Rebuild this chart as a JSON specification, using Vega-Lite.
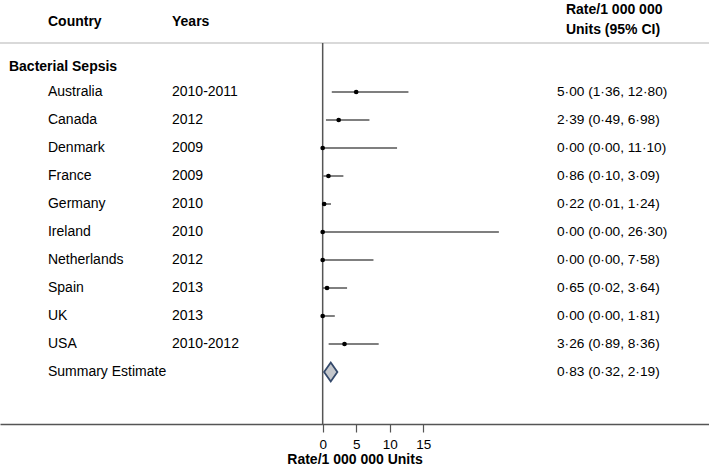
{
  "$schema": "https://vega.github.io/schema/vega-lite/v6.json",
  "width": 709,
  "height": 424,
  "autosize": {"type": "none"},
  "padding": {"left": 0, "right": 0, "top": 0, "bottom": 46},
  "background": "white",
  "config": {
    "view": {"stroke": null},
    "font": "Liberation Sans",
    "axisY": {"disable": true},
    "axisX": {
      "grid": false,
      "domainColor": "#555555",
      "domainWidth": 1.5,
      "tickColor": "#555555",
      "tickWidth": 1.2,
      "tickSize": 8,
      "labelFont": "Liberation Sans",
      "labelFontSize": 13.5,
      "labelColor": "#000000",
      "labelPadding": 5,
      "titleFont": "Liberation Sans",
      "titleFontSize": 14,
      "titleFontWeight": "bold",
      "titleColor": "#000000",
      "titlePadding": 2
    }
  },
  "data": {
    "values": [
      {"country": "Australia", "years": "2010-2011", "kind": "study", "est": 5.00, "lo": 1.36, "hi": 12.80, "ci": "5·00 (1·36, 12·80)"},
      {"country": "Canada", "years": "2012", "kind": "study", "est": 2.39, "lo": 0.49, "hi": 6.98, "ci": "2·39 (0·49, 6·98)"},
      {"country": "Denmark", "years": "2009", "kind": "study", "est": 0.00, "lo": 0.00, "hi": 11.10, "ci": "0·00 (0·00, 11·10)"},
      {"country": "France", "years": "2009", "kind": "study", "est": 0.86, "lo": 0.10, "hi": 3.09, "ci": "0·86 (0·10, 3·09)"},
      {"country": "Germany", "years": "2010", "kind": "study", "est": 0.22, "lo": 0.01, "hi": 1.24, "ci": "0·22 (0·01, 1·24)"},
      {"country": "Ireland", "years": "2010", "kind": "study", "est": 0.00, "lo": 0.00, "hi": 26.30, "ci": "0·00 (0·00, 26·30)"},
      {"country": "Netherlands", "years": "2012", "kind": "study", "est": 0.00, "lo": 0.00, "hi": 7.58, "ci": "0·00 (0·00, 7·58)"},
      {"country": "Spain", "years": "2013", "kind": "study", "est": 0.65, "lo": 0.02, "hi": 3.64, "ci": "0·65 (0·02, 3·64)"},
      {"country": "UK", "years": "2013", "kind": "study", "est": 0.00, "lo": 0.00, "hi": 1.81, "ci": "0·00 (0·00, 1·81)"},
      {"country": "USA", "years": "2010-2012", "kind": "study", "est": 3.26, "lo": 0.89, "hi": 8.36, "ci": "3·26 (0·89, 8·36)"},
      {"country": "Summary Estimate", "years": "", "kind": "summary", "est": 0.83, "lo": 0.32, "hi": 2.19, "ci": "0·83 (0·32, 2·19)"}
    ]
  },
  "transform": [{"window": [{"op": "row_number", "as": "idx"}]}],
  "layer": [
    {
      "data": {"values": [{}]},
      "mark": {"type": "rule", "color": "#cccccc", "strokeWidth": 1.5},
      "encoding": {
        "y": {"datum": -0.75, "type": "quantitative", "scale": {"domain": [-2.2857, 12.857], "reverse": true, "nice": false, "zero": false}, "axis": null}
      }
    },
    {
      "data": {"values": [{}]},
      "mark": {"type": "rule", "color": "#555555", "strokeWidth": 1.5},
      "encoding": {
        "x": {"datum": 0, "type": "quantitative"},
        "y": {"datum": -0.75, "type": "quantitative", "axis": null},
        "y2": {"datum": 12.857}
      }
    },
    {
      "transform": [{"filter": "datum.kind === 'study'"}],
      "mark": {"type": "rule", "color": "#555555", "strokeWidth": 1.5},
      "encoding": {
        "x": {"field": "lo", "type": "quantitative", "scale": {"domain": [-48.16, 57.66], "nice": false, "zero": false}, "axis": {"values": [0, 5, 10, 15], "title": "Rate/1 000 000 Units"}},
        "x2": {"field": "hi"},
        "y": {"field": "idx", "type": "quantitative", "axis": null}
      }
    },
    {
      "transform": [{"filter": "datum.kind === 'study'"}],
      "mark": {"type": "point", "filled": true, "shape": "circle", "color": "#000000", "size": 22, "opacity": 1},
      "encoding": {
        "x": {"field": "est", "type": "quantitative"},
        "y": {"field": "idx", "type": "quantitative", "axis": null}
      }
    },
    {
      "transform": [{"filter": "datum.kind === 'summary'"}],
      "mark": {"type": "point", "filled": false, "shape": "M0,-1L0.7,0L0,1L-0.7,0Z", "fill": "#c4c7cc", "fillOpacity": 1, "stroke": "#34496b", "strokeWidth": 1.8, "opacity": 1, "size": 361, "xOffset": 2.5},
      "encoding": {
        "x": {"field": "est", "type": "quantitative"},
        "y": {"field": "idx", "type": "quantitative", "axis": null}
      }
    },
    {
      "mark": {"type": "text", "align": "left", "baseline": "middle", "fontSize": 14, "color": "#000000"},
      "encoding": {
        "x": {"datum": -41.0, "type": "quantitative"},
        "y": {"field": "idx", "type": "quantitative", "axis": null},
        "text": {"field": "country"}
      }
    },
    {
      "mark": {"type": "text", "align": "left", "baseline": "middle", "fontSize": 14, "color": "#000000"},
      "encoding": {
        "x": {"datum": -22.49, "type": "quantitative"},
        "y": {"field": "idx", "type": "quantitative", "axis": null},
        "text": {"field": "years"}
      }
    },
    {
      "mark": {"type": "text", "align": "left", "baseline": "middle", "fontSize": 13.7, "color": "#000000"},
      "encoding": {
        "x": {"datum": 34.97, "type": "quantitative"},
        "y": {"field": "idx", "type": "quantitative", "axis": null},
        "text": {"field": "ci"}
      }
    },
    {
      "data": {"values": [{}]},
      "mark": {"type": "text", "align": "left", "baseline": "middle", "fontSize": 14, "fontWeight": "bold", "color": "#000000", "text": "Bacterial Sepsis"},
      "encoding": {
        "x": {"datum": -46.82, "type": "quantitative"},
        "y": {"datum": 0.096, "type": "quantitative", "axis": null}
      }
    },
    {
      "data": {"values": [{}]},
      "mark": {"type": "text", "align": "left", "baseline": "middle", "fontSize": 14, "fontWeight": "bold", "color": "#000000", "text": "Country"},
      "encoding": {
        "x": {"datum": -41.0, "type": "quantitative"},
        "y": {"datum": -1.511, "type": "quantitative", "axis": null}
      }
    },
    {
      "data": {"values": [{}]},
      "mark": {"type": "text", "align": "left", "baseline": "middle", "fontSize": 14, "fontWeight": "bold", "color": "#000000", "text": "Years"},
      "encoding": {
        "x": {"datum": -22.49, "type": "quantitative"},
        "y": {"datum": -1.511, "type": "quantitative", "axis": null}
      }
    },
    {
      "data": {"values": [{}]},
      "mark": {"type": "text", "align": "left", "baseline": "middle", "fontSize": 14, "fontWeight": "bold", "color": "#000000", "text": "Rate/1 000 000"},
      "encoding": {
        "x": {"datum": 36.31, "type": "quantitative"},
        "y": {"datum": -1.929, "type": "quantitative", "axis": null}
      }
    },
    {
      "data": {"values": [{}]},
      "mark": {"type": "text", "align": "left", "baseline": "middle", "fontSize": 14, "fontWeight": "bold", "color": "#000000", "text": "Units (95% CI)"},
      "encoding": {
        "x": {"datum": 36.31, "type": "quantitative"},
        "y": {"datum": -1.214, "type": "quantitative", "axis": null}
      }
    }
  ]
}
